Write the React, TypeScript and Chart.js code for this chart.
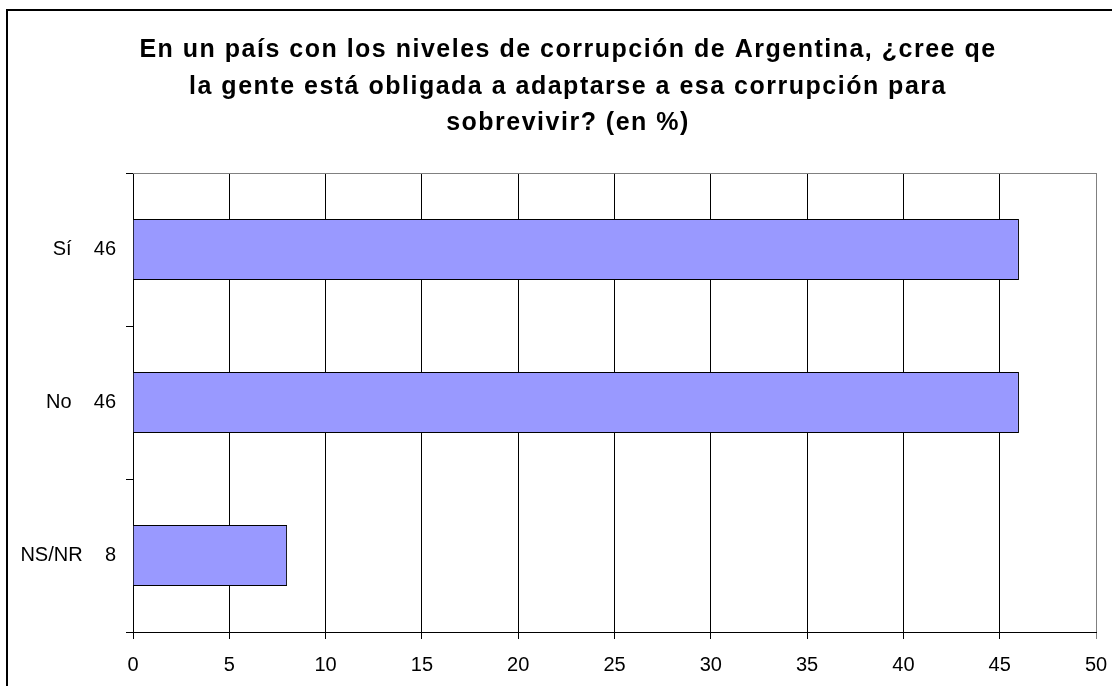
import React, { useEffect, useRef } from "react";
import { Chart, registerables } from "chart.js";

Chart.register(...registerables);

const TITLE_LINES = [
  "En un país con los niveles de corrupción de Argentina, ¿cree qe",
  "la gente está obligada a adaptarse a esa corrupción para",
  "sobrevivir? (en %)",
];
const CATEGORIES = ["Sí", "No", "NS/NR"];
const VALUES = [46, 46, 8];
const X_MIN = 0;
const X_MAX = 50;
const X_STEP = 5;

const FONT = '"Liberation Sans", Arial, Helvetica, sans-serif';

const W = 1112;
const H = 686;
const PLOT_LEFT = 133;
const PLOT_RIGHT = 1096;
const PLOT_TOP = 173;
const PLOT_BOTTOM = 632;

const framePlugin = {
  id: "frameAndTitle",
  beforeDraw(chart: any) {
    const ctx = chart.ctx;
    ctx.save();
    ctx.fillStyle = "#ffffff";
    ctx.fillRect(0, 0, chart.width, chart.height);
    ctx.strokeStyle = "#000000";
    ctx.lineWidth = 2;
    ctx.strokeRect(7, 10, chart.width + 50, chart.height + 50);
    ctx.restore();
  },
  beforeDatasetsDraw(chart: any) {
    const ctx = chart.ctx;
    const a = chart.chartArea;
    ctx.save();
    ctx.strokeStyle = "#808080";
    ctx.lineWidth = 1;
    ctx.beginPath();
    ctx.moveTo(a.left, Math.round(a.top) + 0.5);
    ctx.lineTo(a.right + 0.5, Math.round(a.top) + 0.5);
    ctx.stroke();
    ctx.restore();
  },
  afterDraw(chart: any) {
    const ctx = chart.ctx;
    ctx.save();
    ctx.fillStyle = "#000000";
    ctx.font = `bold 25px ${FONT}`;
    try {
      (ctx as any).letterSpacing = "1.5px";
    } catch (e) {}
    ctx.textAlign = "center";
    ctx.textBaseline = "alphabetic";
    const baselines = [57, 93.5, 130];
    TITLE_LINES.forEach((line, i) => {
      ctx.fillText(line, 568, baselines[i]);
    });
    ctx.restore();
  },
};

export default function App() {
  const ref = useRef<HTMLCanvasElement | null>(null);

  useEffect(() => {
    if (!ref.current) return;
    Chart.defaults.font.family = FONT;
    const labels = CATEGORIES.map((c, i) => `${c}    ${VALUES[i]}`);
    const chart = new Chart(ref.current, {
      type: "bar",
      data: {
        labels,
        datasets: [
          {
            data: VALUES,
            backgroundColor: "#9999FF",
            borderColor: "#000000",
            borderWidth: 1,
            barPercentage: 0.4,
            categoryPercentage: 1,
          },
        ],
      },
      options: {
        indexAxis: "y",
        animation: false,
        responsive: false,
        maintainAspectRatio: false,
        layout: {
          padding: {
            left: 0,
            right: W - PLOT_RIGHT,
            top: PLOT_TOP,
            bottom: 0,
          },
        },
        plugins: {
          legend: { display: false },
          title: { display: false },
          tooltip: { enabled: false },
        },
        scales: {
          x: {
            type: "linear",
            position: "bottom",
            min: X_MIN,
            max: X_MAX,
            ticks: {
              stepSize: X_STEP,
              color: "#000000",
              font: { size: 20, family: FONT },
              padding: 14,
              maxRotation: 0,
            },
            grid: {
              color: (c: any) =>
                c.tick && c.tick.value === X_MAX ? "#808080" : "#000000",
              lineWidth: 1,
              tickLength: 7,
              drawTicks: true,
            },
            border: { color: "#000000", width: 1 },
            afterFit: (s: any) => {
              s.height = H - PLOT_BOTTOM;
              s.paddingLeft = 0;
              s.paddingRight = 0;
            },
          },
          y: {
            type: "category",
            position: "left",
            ticks: {
              color: "#000000",
              font: { size: 20, family: FONT },
              padding: 10,
            },
            grid: {
              offset: true,
              drawOnChartArea: false,
              drawTicks: true,
              tickLength: 7,
              color: "#000000",
            },
            border: { color: "#000000", width: 1 },
            afterFit: (s: any) => {
              s.width = PLOT_LEFT;
              s.paddingTop = 0;
              s.paddingBottom = 0;
            },
          },
        },
      },
      plugins: [framePlugin],
    });
    return () => chart.destroy();
  }, []);

  return (
    <div
      style={{
        position: "fixed",
        left: 0,
        top: 0,
        width: W,
        height: H,
        overflow: "hidden",
        background: "#ffffff",
      }}
    >
      <canvas ref={ref} width={W} height={H} style={{ display: "block" }} />
    </div>
  );
}
